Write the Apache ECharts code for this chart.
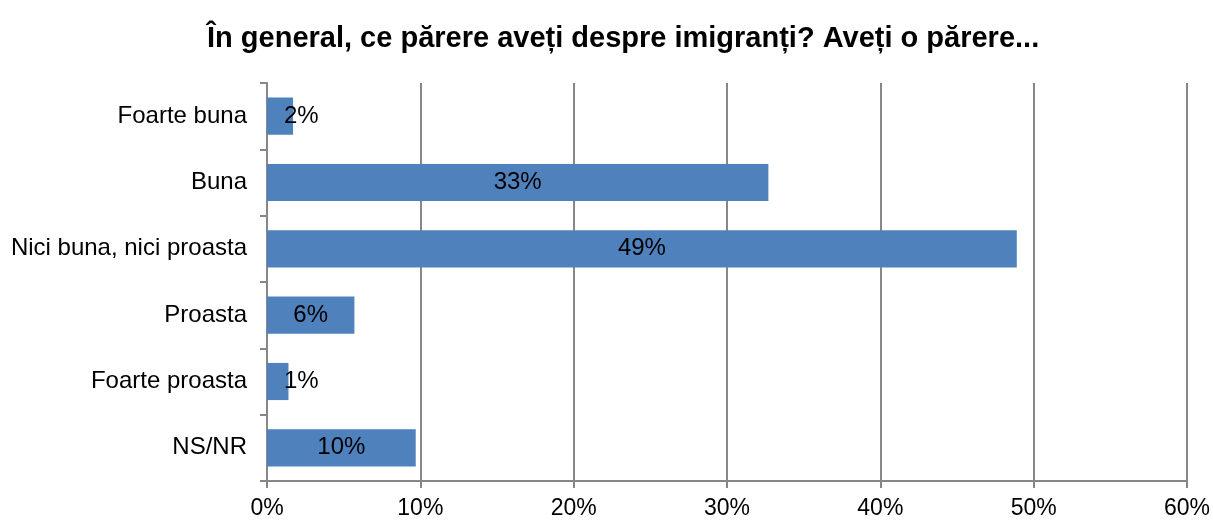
<!DOCTYPE html>
<html>
	<head>
		<meta charset="utf-8">
		<title>Imigranti</title>
		<script type="text/javascript" src="https://cdn.jsdelivr.net/npm/echarts@6/dist/echarts.min.js"></script>
	</head>
	<body style="margin: 0; background-color: #FFFFFF;">
		<div id="chart" style="width: 1213px;height:520px;"></div>
		<script type="text/javascript">
			// date
			var categorii = ['Foarte buna', 'Buna', 'Nici buna, nici proasta', 'Proasta', 'Foarte proasta', 'NS/NR'];
			var valori = [1.7, 32.7, 48.9, 5.7, 1.4, 9.7];
			var etichete = ['2%', '33%', '49%', '6%', '1%', '10%'];
			var tickuri = [0, 10, 20, 30, 40, 50, 60];

			var gri = '#878787';
			var font = 'Liberation Sans, Arial, sans-serif';

			// barele foarte mici au eticheta impinsa spre dreapta
			var dateBare = valori.map(function(v) {
				if (v < 3) {
					return { value: v, label: { position: 'insideLeft', distance: 17 } };
				}
				return v;
			});

			var option = {
				title: {
					text: 'În general, ce părere aveți despre imigranți? Aveți o părere...',
					left: 202,
					top: 19,
					textStyle: {
						fontFamily: font,
						fontWeight: 'bold',
						fontSize: 29,
						color: '#000000'
					}
				},
				grid: {
					left: 267,
					right: 26,
					top: 83,
					bottom: 39
				},
				xAxis: {
					type: 'value',
					min: 0,
					max: tickuri[tickuri.length - 1],
					interval: 10,
					axisLine: { show: true, lineStyle: { color: gri, width: 2 } },
					axisTick: { show: true, length: 7, lineStyle: { color: gri, width: 2 } },
					splitLine: { show: true, lineStyle: { color: gri, width: 2 } },
					axisLabel: {
						formatter: '{value}%',
						margin: 16,
						fontFamily: font,
						fontSize: 23,
						color: '#000000'
					}
				},
				yAxis: {
					type: 'category',
					inverse: true,
					data: categorii,
					axisLine: { show: true, lineStyle: { color: gri, width: 2 } },
					axisTick: { show: true, length: 7, lineStyle: { color: gri, width: 2 } },
					axisLabel: {
						margin: 20,
						fontFamily: font,
						fontSize: 24,
						color: '#000000'
					}
				},
				series: [{
					type: 'bar',
					data: dateBare,
					barCategoryGap: '44%',
					itemStyle: { color: '#4F81BD' },
					label: {
						show: true,
						position: 'inside',
						formatter: function(p) {
							return etichete[p.dataIndex];
						},
						fontFamily: font,
						fontSize: 24,
						color: '#000000'
					}
				}]
			};
			var myChart = echarts.init(document.getElementById('chart'));
			myChart.setOption(option);
		</script>
	</body>
</html>
